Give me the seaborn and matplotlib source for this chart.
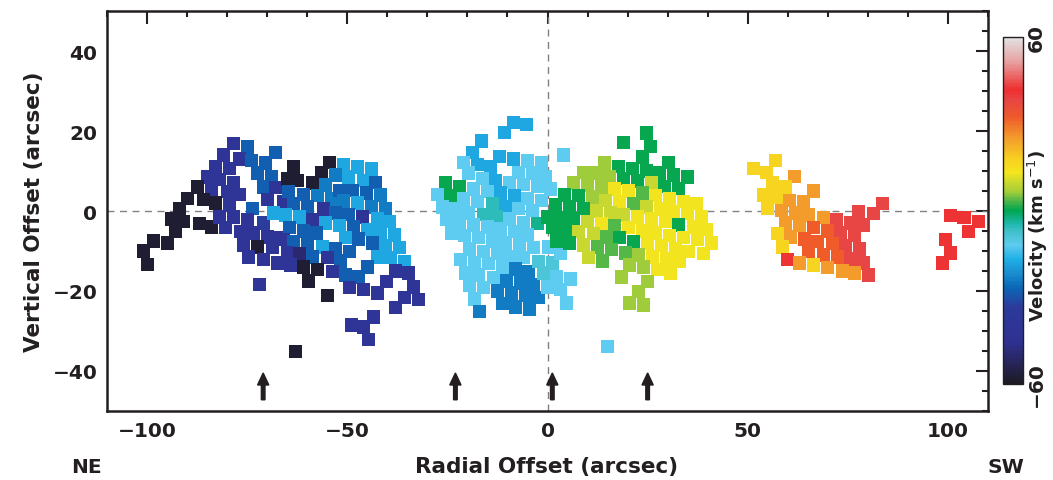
import numpy as np
import pandas as pd
import matplotlib
matplotlib.use("Agg")
import matplotlib.pyplot as plt
import seaborn as sns
from matplotlib.colors import LinearSegmentedColormap, Normalize
from matplotlib.cm import ScalarMappable
from matplotlib.ticker import MultipleLocator

# velocity levels (km/s)
K, N, D, B, B2, S, L, LT, T = -58, -50, -40, -28, -24, -18, -12, -9, -6
G, G2, YG, YG2, Y, Y2, O, OR, R, RR = 0, 3.5, 6.5, 9.5, 13, 17, 25, 32, 38, 41

# ---- data: radial offset, vertical offset (arcsec), velocity ----
x_off = [
    -78.5, -75, -68, -80.8, -77, -74, -70.5, -83, -79.5, -72.5, -69, -85, -81.8, -78.5, -87.5, -84, -80, -77,
    -71, -68, -90, -86, -83, -79.5, -73.7, -70, -66, -92, -94, -91, -87, -84, -82, -80.5, -78.5, -75, -71,
    -68.5, -93, -98.5, -95, -101, -100, -76.7, -73.5, -70, -66.7, -76, -72.5, -68.7, -74.7, -71, -67.5, -72,
    -63.5, -54.5, -51, -47.5, -44, -65, -62.5, -56.5, -53, -49.7, -46, -43, -58.7, -55.5, -64.7, -61, -57.5,
    -54, -52, -48.7, -45.2, -41.7, -51, -47.5, -44, -40.5, -63.5, -60, -56, -53, -49.7, -46.2, -42.5, -39.5,
    -65.5, -62, -58.7, -55.5, -52, -48.5, -45, -41.7, -38.2, -64.5, -61, -57.7, -50.5, -47.2, -43.7, -40.5,
    -37, -66, -63.5, -60, -56.2, -53, -49.5, -65, -62, -58.7, -55, -51.7, -42.5, -39.2, -35.7, -64.2, -61,
    -57.5, -53.7, -50.5, -47.2, -45, -38, -34.7, -59.7, -49.5, -46, -42.5, -40.2, -33.5, -35.7, -32.2, -55,
    -38, -43.5, -49, -46, -44.7, -63,
    -8.5, -5.2, -10.7, -16.5, -18.7, -12, -8.5, -5, -1.5, 4, -21, -17.5, -14.2, -19.7, -16.2, -13, -7.2,
    -3.7, -0.5, -9.5, -6, -2.5, 0.7, -25.5, -22, -24.2, -27.5, -18.5, -15, -11.7, -8.2, -5, -1.5, -21, -17.5,
    -13.7, -10.5, -7.2, -3.7, -26.2, -23, -19.7, -16, -12.7, -9.5, -6, -2.5, -25.2, -22, -18.5, -15, -11.7,
    -8.2, -5, -24, -20.7, -17.2, -13.7, -10.5, -7, -3.5, -19.5, -16, -12.5, -9.2, -6, -21.7, -18.2, -14.7,
    -11.2, -8, -4.7, -2.2, 1.2, -20.5, -17.2, -13.5, -10.2, -6.7, -3.5, -1, 2.2, 5.7, -19.5, -16, -12.5, -9,
    -5.5, -2.2, 0, 3.2, -18.2, -11.2, -8, -4.5, 4.7, -17, 15, 0.2, 3.2,
    24.7, 19, 25.7, 23.7, 30.2, 14.2, 17.7, 21.2, 24.7, 28, 31.5, 35, 9, 12.2, 15.5, 19, 22.5, 26, 29.2, 32.7,
    6.5, 10, 13.5, 16.7, 20.2, 23.7, 27, 30.5, 34, 37.2, 4.2, 7.7, 11.2, 14.5, 18, 21.5, 24.7, 28.2, 31.5, 35,
    38.5, 2, 5.5, 9, 12.2, 15.7, 19, 22.5, 26, 29.5, 32.7, 36.5, 39.7, 0, 3.2, 6.5, 10, 13.5, 16.7, 20.2, 23.7,
    27, 30.5, 34, 37.5, 41, 1.2, 4.5, 7.7, 11.5, 14.7, 18, 21.5, 25, 28.5, 32, 35.2, 39, 2.2, 5.5, 9, 12.5, 16,
    19.5, 22.7, 26.2, 29.7, 33, 10.2, 13.7, 20.5, 24, 27.5, 30.7, 18.5, 25, 22.7, 20.5, 24,
    57, 51.5, 54.7, 61.7, 56.2, 59.5, 66.5, 54, 57.2, 60.5, 64, 83.7, 55, 58.5, 62, 65.2, 69, 77.7, 81.5, 72.2,
    75.7, 79, 59.5, 63, 66.5, 70, 73.2, 76.7, 57.5, 60.7, 64.2, 67.5, 71.2, 74.5, 78, 58.7, 65.2, 69, 72.5,
    75.7, 79, 60, 63, 66.5, 70, 73.7, 76.7, 80.2,
    100.7, 104, 107.5, 105.2, 99.5, 100.7, 98.7,
]
y_off = [
    16.8, 16, 14.7, 14, 13, 12.7, 12, 11, 10.7, 9.5, 8.7, 8.5, 7.8, 7.2, 6, 5.2, 4.8, 4.2,
    6, 5.8, 3.2, 2.8, 2, 1.5, 0.7, 2.8, 2.3, 0.7, -2, -2.7, -3.2, -4, -1.5, -4.2, -1.5, -2.2, -3,
    -0.5, -5.2, -7.5, -8, -10, -13.3, -5.2, -5.5, -6.5, -6.7, -8.5, -9, -9.2, -11.5, -12.2, -13, -18.3,
    11, 12.2, 11.7, 11, 10.5, 8, 7.7, 9.7, 9, 8.5, 7.7, 7.2, 7, 6.5, 4.8, 4.2, 3.8,
    3, 5.2, 5.2, 4.5, 4, 2.5, 2, 1, 0.7, 1.8, 1.2, 0.5, -0.5, -0.8, -1.5, -2, -2.7,
    -1, -1.5, -2.2, -3, -3.7, -4, -4.7, -5.5, -6, -4.2, -5, -5.5, -6.7, -7, -8, -8.7,
    -9.2, -7.2, -7.7, -8.2, -9, -9.5, -10.2, -10.5, -10.7, -11.5, -11.7, -12.5, -11.5, -11.7, -12.7, -13.5, -14,
    -14.7, -15.2, -16, -16.5, -14, -15, -15.5, -17.5, -19.2, -19.7, -20.5, -17.7, -19, -21.7, -22.2, -21.2,
    -24.2, -26.5, -28.5, -29, -32.2, -35.2,
    22.2, 21.7, 19.7, 17.5, 14.7, 13.7, 13, 12.5, 12, 14, 12.2, 11.7, 11, 9.5, 8.2, 7.7, 9.7,
    9.5, 8.5, 7.2, 6.7, 6.2, 5.5, 7, 6.2, 3.8, 4.2, 5.5, 4.8, 4.5, 3.8, 3.2, 2.7, 3, 2.3,
    1.8, 1.2, 0.7, 0.2, 1, 0.5, -0.5, -0.8, -1.5, -2, -3, -3.2, -2.2, -3, -3.5, -4, -4.5,
    -5.2, -6, -5.5, -6.2, -6.7, -7.5, -8, -8.5, -9.2, -9.5, -10.2, -10.5, -11.5, -11.7, -12.2, -13, -13.2,
    -14, -14.5, -15.2, -12.7, -13, -15.5, -16, -16.7, -17.5, -18, -18.5, -15.5, -16.5, -17, -18.7, -19.2, -20, -20.5,
    -21, -21.7, -19, -19.7, -22, -23.2, -24, -24.5, -23, -25.2, -34, -9, -10.5,
    19.5, 17.2, 16.2, 13.5, 12.2, 12, 11.2, 10.7, 10, 9.5, 9, 8.5, 9.7, 9.5, 8.5, 8.2, 7.5, 7, 6.2, 5.7,
    7, 6.5, 6, 5.5, 5, 4.5, 3.8, 3, 2.3, 1.8, 4, 3.8, 3.5, 2.7, 2.3, 1.8, 1, 0.5, -0.2, -0.5,
    -1.5, 1.5, 1, 0.7, 0, -0.5, -1, -1.5, -2, -2.7, -3.5, -4, -4.7, -1.5, -1.7, -2, -2.7, -3.2, -3.7, -4.2, -5,
    -5.5, -6.2, -6.7, -7.2, -8, -4.2, -4.7, -5.2, -5.7, -6.5, -6.7, -7.7, -8.2, -8.7, -9.5, -10.2, -10.7, -7.5, -8, -8.5, -9, -9.7,
    -10.5, -11, -11.5, -12, -12.7, -11.7, -12.5, -13.5, -14, -14.7, -15.5, -16.5, -17.7, -20.2, -23, -23.5,
    12.7, 10.7, 9.7, 8.7, 7, 6, 5, 4, 3.5, 2.7, 2.3, 1.8, 0.7, 0.2, -0.5, -1, -1.7, -0.2, -0.7, -2.2,
    -3, -3.5, -3, -3.7, -4.2, -5, -5.5, -6.2, -5.7, -6.5, -7, -7.7, -8.2, -8.7, -9.5, -9, -10.2, -11, -11.5,
    -12, -13, -12.2, -13, -13.5, -14.2, -15, -15.5, -16,
    -1.2, -1.7, -2.7, -5.2, -7.2, -10.5, -13,
]
velocity = [
    D, B, B, D, D, B, B, D, D, B, B, D, D, D, K, D, D, D,
    B, D, K, K, K, D, B, D, D, K, K, K, K, K, D, D, D, D, -33,
    S, K, K, K, K, K, D, D, D, D, D, K, D, D, D, D, D,
    K, K, S, S, S, K, K, K, B2, S, S, B, K, B2, B, B, B2,
    B2, B, B, B, B2, B2, S, B2, B2, B, B, D, B, B, D, S, S,
    S, S, D, S, S, B, S, S, S, B, B, B, S, B, B, S,
    S, D, B, B, S, B, B, D, N, B, D, B, S, S, S, D, K,
    K, D, B, B, B, D, D, K, D, D, D, D, D, D, D, K,
    D, D, D, D, D, K,
    S, S, S, S, S, S, S, L, L, L, L, S, S, L, L, S, L,
    L, L, L, L, L, L, G, G, G, L, L, L, S, S, L, L, L, L,
    T, S, L, L, L, L, L, T, T, L, L, -3, L, L, L, L, L,
    L, L, L, L, L, L, L, L, L, L, L, L, L, L, L, L, L,
    L, B2, B2, LT, LT, L, L, L, B2, B2, B2, LT, L, L, L, L, B2, B2,
    B2, B2, L, L, L, B2, B2, B2, L, B2, L, L, L,
    G, G, G, G, G, YG, G, G, G, G, G, G, YG, YG, YG, G, G, YG2, G, G,
    YG, YG, YG, Y, Y, G2, Y, Y, Y, Y, G, G, YG, YG2, Y, G2, YG2, Y, Y, Y,
    Y, G, G, G, YG2, YG2, YG2, Y, Y, Y, G, Y, Y, G, G, G, YG2, Y, G2, Y, Y,
    Y, Y, Y, Y, Y, G, G, YG2, YG2, G2, G, G, Y, Y, Y, Y, Y, G, G, YG2, G2, G2,
    G2, YG, Y, Y, Y, YG2, G2, YG, YG, Y, Y, YG, YG, YG, YG, YG,
    Y2, Y2, Y2, O, Y2, Y2, O, Y2, Y2, O, O, R, Y2, O, O, O, O, R, R, R,
    R, R, O, O, OR, OR, R, R, Y2, O, OR, OR, OR, R, R, Y2, OR, OR, OR,
    R, R, RR, O, Y2, O, O, O, R,
    RR, RR, RR, RR, RR, RR, RR,
]

arrow_x = [-71, -23, 1.2, 25]
arrow_y0, arrow_y1 = -47.2, -40.5

xticks = [-100, -50, 0, 50, 100]
yticks = [-40, -20, 0, 20, 40]

df = pd.DataFrame({"x": x_off, "y": y_off, "v": velocity})

# colour table approximating the reference bar (-60 -> 60)
stops = [
    (0.00, "#1c1a22"), (0.06, "#27255a"), (0.12, "#2e3192"), (0.22, "#2d3a9a"),
    (0.28, "#0a6ab8"), (0.32, "#1a8fd0"), (0.36, "#1fb0e6"), (0.40, "#5ecbf0"),
    (0.44, "#40c0c8"), (0.46, "#20b8b0"), (0.50, "#00a650"), (0.53, "#55b848"),
    (0.555, "#a6ce39"), (0.58, "#c8d830"), (0.61, "#f5e51e"), (0.65, "#f8d020"),
    (0.71, "#f39c2c"), (0.77, "#ef5a2a"), (0.82, "#e84545"), (0.85, "#ee2e2e"),
    (0.93, "#e8a0a0"), (1.00, "#e2e2e2"),
]
cmap = LinearSegmentedColormap.from_list("vel", stops)
norm = Normalize(-60, 60)

sns.set_theme(style="white")
plt.rcParams["font.family"] = ["DejaVu Sans"]

fig = plt.figure(figsize=(10.53, 4.81), dpi=100)
ax = fig.add_axes([0.1016, 0.1435, 0.8367, 0.8315])

ax.axhline(0, color="#808080", lw=1.0, dashes=(5, 4), zorder=1)
ax.axvline(0, color="#808080", lw=1.0, dashes=(5, 4), zorder=1)

sns.scatterplot(data=df, x="x", y="y", hue="v", palette=cmap, hue_norm=norm,
                marker="s", s=88, linewidth=0, legend=False, ax=ax, zorder=2)

for ax_x in arrow_x:
    ax.arrow(ax_x, arrow_y0, 0, arrow_y1 - arrow_y0, width=0.9, head_width=2.8,
             head_length=3.0, length_includes_head=True, color="#231f20", zorder=3)

ax.set_xlim(-110, 110)
ax.set_ylim(-50, 50)
ax.set_xticks(xticks)
ax.set_yticks(yticks)
ax.set_xticklabels([f"{t:d}".replace("-", "\u2212") for t in xticks])
ax.set_yticklabels([f"{t:d}".replace("-", "\u2212") for t in yticks])
ax.xaxis.set_minor_locator(MultipleLocator(10))
ax.yaxis.set_minor_locator(MultipleLocator(5))
ax.tick_params(which="both", direction="in", top=True, right=True, color="#231f20",
               width=1.5, labelsize=14.5, labelcolor="#231f20", pad=7)
ax.tick_params(which="major", length=9)
ax.tick_params(which="minor", length=4.5)
for lab in ax.get_xticklabels() + ax.get_yticklabels():
    lab.set_fontweight("bold")
for sp in ax.spines.values():
    sp.set_linewidth(1.8)
    sp.set_color("#231f20")
ax.set_xlabel("")
ax.set_ylabel("Vertical Offset (arcsec)", fontsize=15.5, fontweight="bold",
              color="#231f20", labelpad=6)

fig.text(0.5195, 0.017, "Radial Offset (arcsec)", ha="center", va="baseline",
         fontsize=15.5, fontweight="bold", color="#231f20")
fig.text(0.082, 0.017, "NE", ha="center", va="baseline", fontsize=14.5,
         fontweight="bold", color="#231f20")
fig.text(0.955, 0.017, "SW", ha="center", va="baseline", fontsize=14.5,
         fontweight="bold", color="#231f20")

cax = fig.add_axes([0.9525, 0.1996, 0.019, 0.7214])
sm = ScalarMappable(norm=norm, cmap=cmap)
cb = fig.colorbar(sm, cax=cax)
cb.set_ticks([-60, 60])
cb.set_ticklabels(["\u221260", "60"])
cb.ax.tick_params(length=0, labelsize=14.5, labelcolor="#231f20", pad=3)
for lab in cb.ax.get_yticklabels():
    lab.set_rotation(90)
    lab.set_va("center")
    lab.set_fontweight("bold")
cb.outline.set_linewidth(1.0)
cb.outline.set_edgecolor("#231f20")
fig.text(0.986, 0.51, "Velocity (km s$^{-1}$)", rotation=90, ha="center",
         va="center", fontsize=13, fontweight="bold", color="#231f20")

fig.savefig("out.png", dpi=100)
